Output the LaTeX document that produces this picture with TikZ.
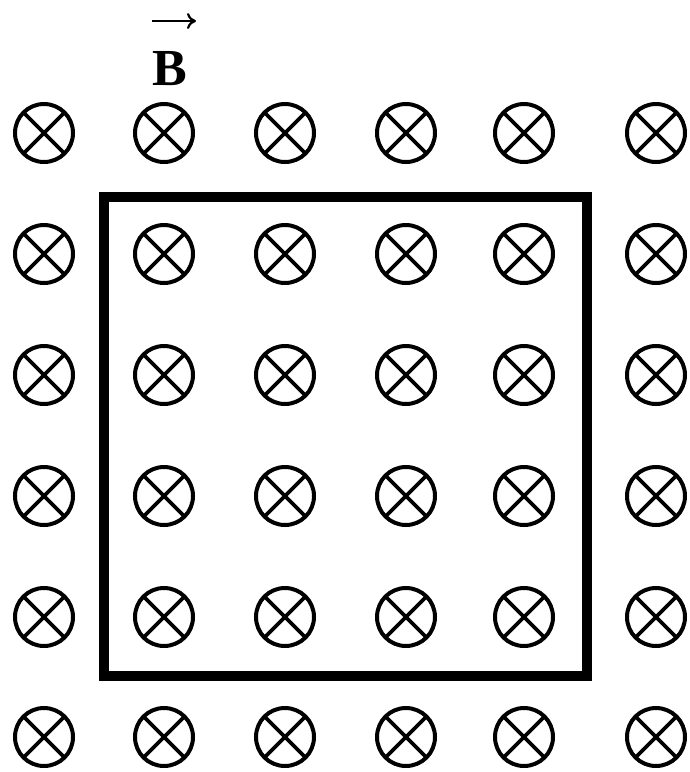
\documentclass[tikz,border=0pt]{standalone}
\usepackage{fontspec}
\setmainfont{Liberation Serif}
\usetikzlibrary{arrows.meta}
\begin{document}
\begin{tikzpicture}[x=1pt,y=-1pt,
  bfield/.style={circle, draw=black, line width=4pt, minimum size=58pt, inner sep=0pt,
    path picture={
      \draw[line width=3.6pt] (path picture bounding box.north west) -- (path picture bounding box.south east);
      \draw[line width=3.6pt] (path picture bounding box.north east) -- (path picture bounding box.south west);
    }},
  loopbox/.style={draw=black, line width=10pt, rectangle, inner sep=0pt, minimum width=483pt, minimum height=479pt},
  blabel/.style={inner sep=0pt, font=\fontsize{52}{56}\selectfont\bfseries},
  vecarrow/.style={line width=2.2pt, -{Computer Modern Rightarrow[length=9pt,width=16pt,line width=2.2pt]}}
]
\useasboundingbox (0,0) rectangle (690,772);
\fill[white] (0,0) rectangle (690,772);
\foreach \c/\x in {1/44,2/164,3/285,4/406,5/524,6/656}{
  \foreach \r/\y in {1/133,2/254,3/375,4/496,5/617,6/737}{
    \node[bfield] (c-\r-\c) at (\x,\y) {};
  }
}
\node[loopbox] (loop) at (345.5,436.5) {};
\node[blabel] (B) at (170,69) {B};
\coordinate (arrowtail) at (152,21);
\coordinate (arrowhead) at (196,21);
\draw[vecarrow] (arrowtail) -- (arrowhead);
\end{tikzpicture}
\end{document}
